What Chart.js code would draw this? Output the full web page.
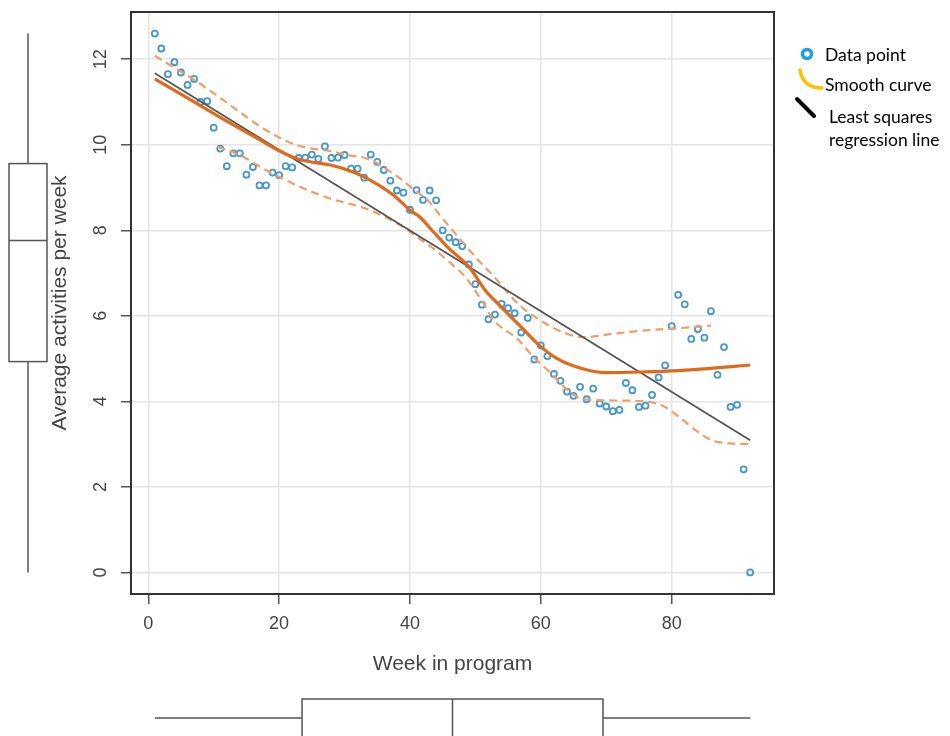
<!DOCTYPE html>
<html lang="en">
<head>
    <meta charset="UTF-8">
    <title>Average activities per week</title>
    <script src="https://cdn.jsdelivr.net/npm/chart.js@4"></script>
    <style>
        body { margin: 0; background: #fff; }
        #wrap { width: 950px; height: 736px; position: relative; }
    </style>
</head>
<body>
    <div id="wrap">
        <canvas id="scatterChart"></canvas>
    </div>
    <script>
    // week number and observed value
    const weeks = [1,2,3,4,5,6,7,8,9,10,11,12,13,14,15,16,17,18,19,20,21,22,23,24,25,26,27,28,29,30,
        31,32,33,34,35,36,37,38,39,40,41,42,43,44,45,46,47,48,49,50,51,52,53,54,55,56,57,58,59,60,
        61,62,63,64,65,66,67,68,69,70,71,72,73,74,75,76,77,78,79,80,81,82,83,84,85,86,87,88,89,90,91,92];
    const activities = [12.6,12.25,11.65,11.93,11.69,11.4,11.54,11.0,11.02,10.4,9.91,9.5,9.8,9.8,9.3,9.48,9.05,9.05,9.35,9.29,
        9.5,9.47,9.69,9.7,9.77,9.67,9.96,9.69,9.7,9.76,9.44,9.44,9.23,9.77,9.6,9.41,9.16,8.93,8.88,8.48,
        8.94,8.71,8.93,8.7,8.0,7.83,7.72,7.63,7.2,6.74,6.26,5.92,6.03,6.28,6.18,6.06,5.61,5.95,4.98,5.31,
        5.06,4.64,4.48,4.23,4.13,4.34,4.05,4.3,3.95,3.88,3.77,3.8,4.43,4.26,3.87,3.9,4.15,4.56,4.84,5.76,
        6.49,6.27,5.46,5.69,5.49,6.11,4.62,5.27,3.87,3.92,2.41,0.0];

    // smooth curve + its band
    const smoothX = [1,7,12,17,20,23,28,31,33.5,37.5,40,41.5,43.6,46,49,51.5,54,56.8,60,62.5,66,70,76,81,86,92];
    const smoothY = [11.54,11.0,10.55,10.12,9.86,9.66,9.52,9.38,9.21,8.82,8.47,8.31,7.96,7.57,7.15,6.6,6.2,5.77,5.28,5.0,4.78,4.67,4.69,4.72,4.77,4.85];
    const upperX = [1,7.4,12.5,17.6,22.7,27.8,30.8,33.4,38.5,41,42.5,44.6,47.6,50.7,52.7,56.8,60.4,63,66.5,71,76,81,86];
    const upperY = [12.08,11.48,10.93,10.38,9.99,9.85,9.75,9.68,9.21,8.9,8.74,8.35,7.8,7.26,6.94,6.24,5.85,5.64,5.5,5.58,5.66,5.71,5.77];
    const lowerX = [10.6,14,17.6,22.7,27.8,30.8,33.4,38.5,41.5,43.6,46.6,48.5,51.2,52.8,56.5,58.8,61.4,64.5,66.5,71.5,76.1,78.6,81.2,83.8,86.3,88.9,92];
    const lowerY = [9.95,9.76,9.44,9.05,8.74,8.62,8.5,8.12,7.8,7.57,7.18,6.9,6.3,5.9,5.45,5.05,4.68,4.21,4.05,4.02,4.0,3.9,3.63,3.31,3.08,3.02,3.0];

    // least squares line end points
    const regX = [1, 92];
    const regY = [11.67, 3.09];

    // box plots: min, q1, median, q3, max
    const weekBox = [1, 23.5, 46.5, 69.5, 92];
    const activityBox = [0, 4.93, 7.76, 9.56, 12.6];

    const xTicks = [0, 20, 40, 60, 80];
    const yTicks = [0, 2, 4, 6, 8, 10, 12];
    const xTitle = 'Week in program';
    const yTitle = 'Average activities per week';
    const legendLabels = ['Data point', 'Smooth curve', 'Least squares', 'regression line'];

    function pairs(xs, ys) {
        return xs.map((v, i) => ({ x: v, y: ys[i] }));
    }

    const axisFont = '"Liberation Sans", Arial, sans-serif';

    const decor = {
        id: 'decor',
        afterDraw(chart) {
            const ctx = chart.ctx;
            const a = chart.chartArea;
            const xs = chart.scales.x;
            const ys = chart.scales.y;
            ctx.save();

            // plot box
            ctx.strokeStyle = '#333';
            ctx.lineWidth = 2;
            ctx.strokeRect(a.left, a.top, a.right - a.left, a.bottom - a.top);

            // tick labels
            ctx.fillStyle = '#444';
            ctx.font = '18px ' + axisFont;
            ctx.textAlign = 'center';
            ctx.textBaseline = 'middle';
            xTicks.forEach(v => ctx.fillText(String(v), xs.getPixelForValue(v), 624));
            yTicks.forEach(v => {
                ctx.save();
                ctx.translate(101, ys.getPixelForValue(v));
                ctx.rotate(-Math.PI / 2);
                ctx.fillText(String(v), 0, 0);
                ctx.restore();
            });

            // titles
            ctx.font = '21px ' + axisFont;
            ctx.fillText(xTitle, (a.left + a.right) / 2, 664);
            ctx.save();
            ctx.translate(60, (a.top + a.bottom) / 2);
            ctx.rotate(-Math.PI / 2);
            ctx.fillText(yTitle, 0, 0);
            ctx.restore();

            // box plots
            ctx.strokeStyle = '#555';
            ctx.lineWidth = 1.5;
            const yb = activityBox.map(v => ys.getPixelForValue(v));
            ctx.beginPath();
            ctx.moveTo(28, yb[0]); ctx.lineTo(28, yb[1]);
            ctx.moveTo(28, yb[3]); ctx.lineTo(28, yb[4]);
            ctx.moveTo(9, yb[2]); ctx.lineTo(47, yb[2]);
            ctx.stroke();
            ctx.strokeRect(9, yb[3], 38, yb[1] - yb[3]);

            const xb = weekBox.map(v => xs.getPixelForValue(v));
            ctx.beginPath();
            ctx.moveTo(xb[0], 718); ctx.lineTo(xb[1], 718);
            ctx.moveTo(xb[3], 718); ctx.lineTo(xb[4], 718);
            ctx.moveTo(xb[2], 699); ctx.lineTo(xb[2], 740);
            ctx.stroke();
            ctx.strokeRect(xb[1], 699, xb[3] - xb[1], 45);

            // hand-made legend on the right
            ctx.strokeStyle = '#1a9fe0';
            ctx.lineWidth = 3.5;
            ctx.beginPath();
            ctx.arc(807, 54, 4.5, 0, Math.PI * 2);
            ctx.stroke();

            ctx.strokeStyle = '#ffc000';
            ctx.lineWidth = 3.5;
            ctx.lineCap = 'round';
            ctx.beginPath();
            ctx.moveTo(800, 70);
            ctx.quadraticCurveTo(803, 88, 822, 88);
            ctx.stroke();

            ctx.strokeStyle = '#000';
            ctx.lineWidth = 4;
            ctx.beginPath();
            ctx.moveTo(797, 99);
            ctx.lineTo(814, 116);
            ctx.stroke();

            ctx.fillStyle = '#000';
            ctx.font = '17.5px Lato, "Open Sans", sans-serif';
            ctx.textAlign = 'left';
            ctx.fillText(legendLabels[0], 825, 55);
            ctx.fillText(legendLabels[1], 825, 85);
            ctx.fillText(legendLabels[2], 829, 117);
            ctx.fillText(legendLabels[3], 829, 140);

            ctx.restore();
        }
    };

    const ctx = document.getElementById('scatterChart').getContext('2d');
    const chart = new Chart(ctx, {
        type: 'scatter',
        data: {
            datasets: [
                {
                    label: 'Smooth curve',
                    data: pairs(smoothX, smoothY),
                    showLine: true,
                    borderColor: '#e0691a',
                    borderWidth: 3.2,
                    pointRadius: 0,
                    cubicInterpolationMode: 'monotone',
                    order: 1
                },
                {
                    label: 'Least squares regression line',
                    data: pairs(regX, regY),
                    showLine: true,
                    borderColor: '#555',
                    borderWidth: 1.8,
                    pointRadius: 0,
                    order: 2
                },
                {
                    label: 'upper',
                    data: pairs(upperX, upperY),
                    showLine: true,
                    borderColor: '#ef9e68',
                    borderWidth: 2.2,
                    borderDash: [8, 5],
                    pointRadius: 0,
                    cubicInterpolationMode: 'monotone',
                    order: 3
                },
                {
                    label: 'lower',
                    data: pairs(lowerX, lowerY),
                    showLine: true,
                    borderColor: '#ef9e68',
                    borderWidth: 2.2,
                    borderDash: [8, 5],
                    pointRadius: 0,
                    cubicInterpolationMode: 'monotone',
                    order: 3
                },
                {
                    label: 'Data point',
                    data: pairs(weeks, activities),
                    pointRadius: 3,
                    pointBorderWidth: 1.8,
                    borderColor: '#4597cd',
                    backgroundColor: 'rgba(255,255,255,0)',
                    order: 4
                }
            ]
        },
        options: {
            responsive: true,
            maintainAspectRatio: false,
            animation: false,
            layout: { padding: { left: 0, top: 12, right: 176, bottom: 0 } },
            plugins: { legend: { display: false }, tooltip: { enabled: false } },
            scales: {
                x: {
                    type: 'linear',
                    min: -2.64,
                    max: 95.64,
                    afterBuildTicks: s => { s.ticks = xTicks.map(v => ({ value: v })); },
                    afterFit: s => { s.height = 142; },
                    ticks: { display: false },
                    border: { display: false },
                    grid: { color: '#e4e4e4', lineWidth: 1.5, tickColor: '#555', tickLength: 10 }
                },
                y: {
                    type: 'linear',
                    min: -0.504,
                    max: 13.104,
                    afterBuildTicks: s => { s.ticks = yTicks.map(v => ({ value: v })); },
                    afterFit: s => { s.width = 131; },
                    ticks: { display: false },
                    border: { display: false },
                    grid: { color: '#e4e4e4', lineWidth: 1.5, tickColor: '#555', tickLength: 10 }
                }
            }
        },
        plugins: [decor]
    });
    </script>
</body>
</html>
